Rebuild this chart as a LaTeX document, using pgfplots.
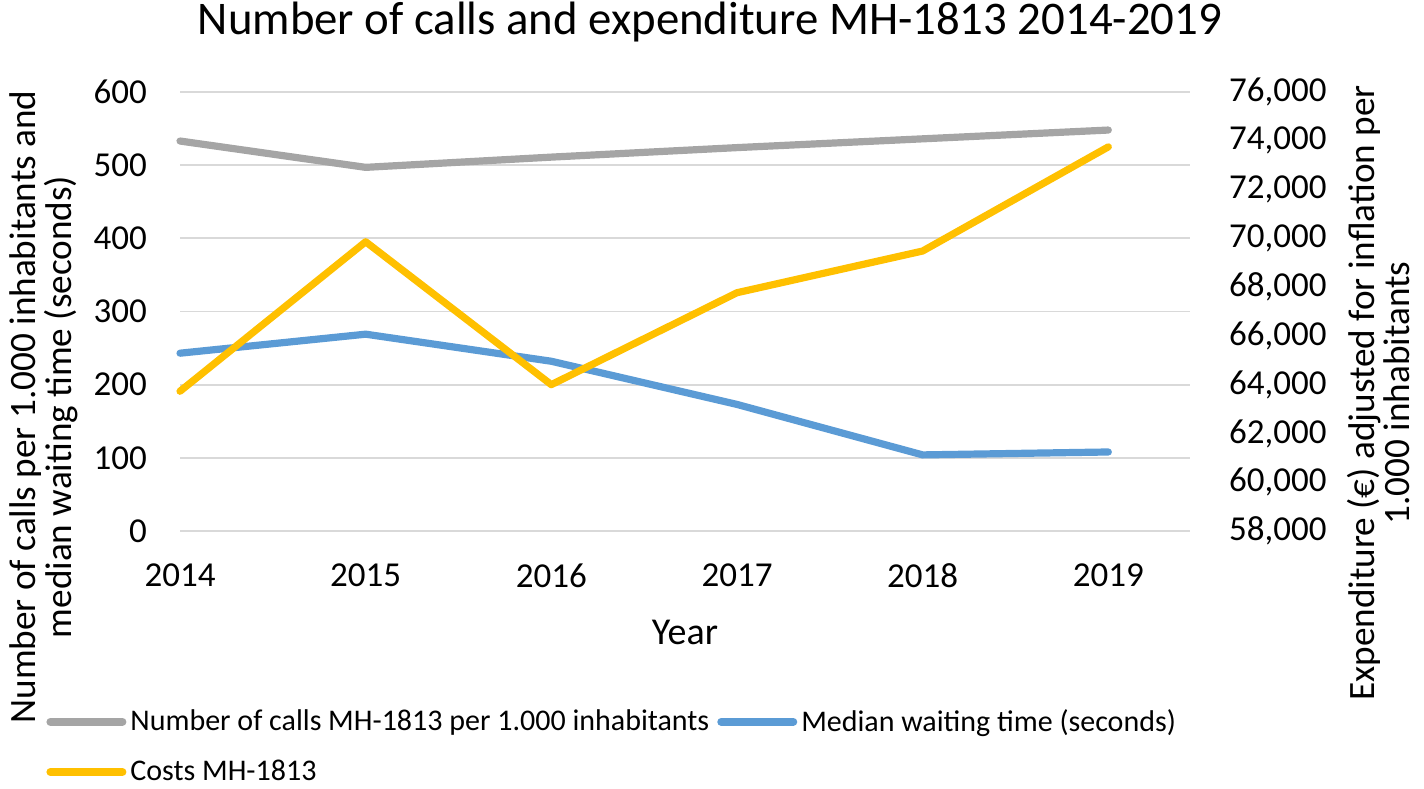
\documentclass[border=0pt]{standalone}
\usepackage{fontspec}
\setmainfont{Carlito}
\usepackage{pgfplots}
\pgfplotsset{compat=1.18}
\definecolor{cgray}{HTML}{A5A5A5}
\definecolor{cblue}{HTML}{5B9BD5}
\definecolor{cyel}{HTML}{FFC000}
\definecolor{cgrid}{HTML}{D9D9D9}
\pgfplotsset{
  base/.style={
    at={(90pt,128.5pt)}, anchor=south west,
    scale only axis, width=505pt, height=219.5pt,
    xmin=0, xmax=5.44,
    major tick length=0pt,
    axis line style={draw=none},
    tick label style={font=\fontsize{17.5}{20}\selectfont},
    /pgf/number format/assume math mode=true,
    clip=false,
  }
}
\begin{document}
\begin{tikzpicture}[x=1pt,y=1pt]
\path[use as bounding box] (0,0) rectangle (712,394);
\begin{axis}[base,
  ymin=0, ymax=600, ytick={0,100,...,600},
  ymajorgrids, grid style={cgrid, line width=0.9pt},
  xtick={0,1,2,3,4,5},
  xticklabels={2014,2015,2016,2017,2018,2019},
  yticklabel style={xshift=-13pt},
  xticklabel style={yshift=-13pt},
]
\addplot[cgray, line width=3.6pt, line cap=round, line join=round] coordinates {
 (0,533) (1,497) (2,511) (3,524) (4,536) (5,548)};
\addplot[cblue, line width=3.6pt, line cap=round, line join=round] coordinates {
 (0,243) (1,269) (2,232) (3,173) (4,104) (5,108)};
\end{axis}
\begin{axis}[base,
  ymin=58000, ymax=76000, ytick={58000,60000,...,76000},
  scaled y ticks=false,
  axis y line*=right, axis x line=none,
  yticklabel style={xshift=16pt},
  /pgf/number format/fixed, /pgf/number format/precision=0, /pgf/number format/1000 sep={,},
  legend columns=2,
  legend cell align=left,
  legend style={draw=none, fill=none, at={(-0.1386,-0.387)}, anchor=north west,
    font=\fontsize{15}{18}\selectfont,
    /tikz/every even column/.append style={column sep=2pt},
    row sep=9pt},
  legend image code/.code={\draw[#1, line cap=round] (0pt,0pt) -- (36pt,0pt);},
]
\addlegendimage{cgray, line width=4pt}
\addlegendentry{Number of calls MH-1813 per 1.000 inhabitants}
\addlegendimage{cblue, line width=4pt}
\addlegendentry{Median waiting time (seconds)}
\addplot[cyel, line width=3.6pt, line cap=round, line join=round, forget plot] coordinates {
 (0,63730) (1,69860) (2,64000) (3,67770) (4,69480) (5,73750)};
\addlegendimage{cyel, line width=4pt}
\addlegendentry{Costs MH-1813}
\end{axis}
\node[font=\fontsize{23.4}{28}\selectfont] at (355,383) {Number of calls and expenditure MH-1813 2014-2019};
\node[font=\fontsize{19}{22}\selectfont] at (342.5,78) {Year};
\node[font=\fontsize{18.6}{18}\selectfont, rotate=90, align=center] at (21.75,190.5)
  {Number of calls per 1.000 inhabitants and\\median waiting time (seconds)};
\node[font=\fontsize{18.6}{17.5}\selectfont, rotate=90, align=center] at (689.5,197.5)
  {Expenditure (€) adjusted for inflation per\\1.000 inhabitants};
\end{tikzpicture}
\end{document}
